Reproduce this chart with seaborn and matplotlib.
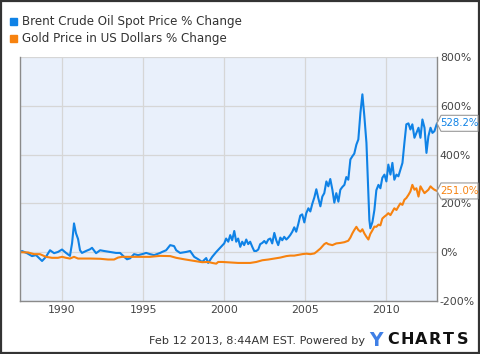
import matplotlib
matplotlib.use("Agg")
import matplotlib.pyplot as plt
import seaborn as sns
import pandas as pd
from matplotlib.patches import Rectangle, Polygon

# ---------------- data ----------------
oil_years = [1987.41, 1987.53, 1987.84, 1988.15, 1988.40, 1988.77, 1989.01, 1989.26, 1989.51, 1989.75,
             1990.00, 1990.25, 1990.49, 1990.62, 1990.74, 1990.86, 1990.99, 1991.11, 1991.23, 1991.48,
             1991.73, 1991.85, 1992.10, 1992.35, 1992.59, 1992.96, 1993.33, 1993.58, 1993.83, 1994.01,
             1994.20, 1994.44, 1994.69, 1994.94, 1995.19, 1995.43, 1995.68, 1996.05, 1996.17, 1996.42,
             1996.67, 1996.91, 1997.04, 1997.28, 1997.65, 1997.90, 1998.15, 1998.40, 1998.64, 1998.89,
             1999.01, 1999.26, 1999.51, 1999.75, 2000.00, 2000.12, 2000.25, 2000.37, 2000.49, 2000.62,
             2000.74, 2000.86, 2000.99, 2001.11, 2001.23, 2001.36, 2001.48, 2001.60, 2001.73, 2001.85,
             2001.98, 2002.10, 2002.22, 2002.35, 2002.47, 2002.59, 2002.72, 2002.84, 2002.96, 2003.09,
             2003.21, 2003.33, 2003.46, 2003.58, 2003.70, 2003.83, 2003.95, 2004.07, 2004.20, 2004.32,
             2004.44, 2004.57, 2004.69, 2004.81, 2004.94, 2005.06, 2005.19, 2005.31, 2005.43, 2005.56,
             2005.68, 2005.80, 2005.93, 2006.05, 2006.17, 2006.30, 2006.42, 2006.54, 2006.67, 2006.79,
             2006.91, 2007.04, 2007.16, 2007.28, 2007.41, 2007.53, 2007.65, 2007.78, 2007.90, 2008.02,
             2008.15, 2008.27, 2008.40, 2008.52, 2008.64, 2008.77, 2008.89, 2008.95, 2009.01, 2009.14,
             2009.26, 2009.38, 2009.51, 2009.63, 2009.75, 2009.88, 2010.00, 2010.12, 2010.25, 2010.37,
             2010.49, 2010.62, 2010.74, 2010.86, 2010.99, 2011.11, 2011.23, 2011.36, 2011.48, 2011.60,
             2011.73, 2011.85, 2011.98, 2012.10, 2012.22, 2012.35, 2012.47, 2012.59, 2012.72, 2012.84,
             2012.96, 2013.12]
oil_pct = [0, 5, -4, -16, -12, -36, -19, 8, -4, 1,
           11, -3, -15, 37, 118, 78, 54, 8, -3, 5,
           12, 18, -4, 8, 5, 1, -3, -3, -19, -29,
           -25, -8, -12, -8, -3, -8, -12, -3, 1, 8,
           29, 25, 8, -3, 1, 5, -19, -29, -40, -24,
           -44, -19, 1, 18, 36, 56, 43, 70, 49, 87,
           43, 56, 22, 43, 29, 52, 33, 43, 22, 5,
           5, 11, 33, 38, 46, 36, 52, 56, 36, 79,
           49, 29, 60, 49, 63, 52, 60, 70, 84, 102,
           84, 116, 150, 155, 122, 160, 180, 167, 198, 225,
           258, 222, 188, 228, 242, 290, 270, 300, 256, 203,
           242, 207, 256, 267, 276, 308, 297, 380, 393, 404,
           441, 462, 572, 647, 558, 448, 242, 132, 98, 124,
           173, 254, 276, 262, 305, 318, 290, 359, 318, 366,
           297, 318, 311, 338, 366, 448, 524, 528, 503, 524,
           469, 489, 510, 469, 544, 510, 407, 475, 510, 489,
           496, 528.2]

gold_years = [1987.41, 1987.90, 1988.27, 1988.64, 1989.01, 1989.38, 1989.75, 1990.00, 1990.25, 1990.49,
              1990.74, 1990.99, 1991.36, 1991.73, 1992.35, 1992.84, 1993.21, 1993.46, 1993.70, 1994.20,
              1994.81, 1995.43, 1996.05, 1996.67, 1997.04, 1997.53, 1997.90, 1998.27, 1998.64, 1999.01,
              1999.26, 1999.51, 1999.63, 1999.88, 2000.37, 2000.86, 2001.60, 2001.98, 2002.35, 2002.72,
              2003.09, 2003.46, 2003.83, 2004.07, 2004.32, 2004.57, 2004.81, 2005.06, 2005.31, 2005.56,
              2005.68, 2005.93, 2006.17, 2006.30, 2006.42, 2006.67, 2006.91, 2007.16, 2007.41, 2007.65,
              2007.78, 2007.90, 2008.02, 2008.15, 2008.27, 2008.40, 2008.52, 2008.64, 2008.77, 2008.89,
              2009.01, 2009.14, 2009.26, 2009.38, 2009.51, 2009.63, 2009.75, 2009.88, 2010.00, 2010.12,
              2010.25, 2010.37, 2010.49, 2010.62, 2010.74, 2010.86, 2010.99, 2011.11, 2011.23, 2011.36,
              2011.48, 2011.60, 2011.73, 2011.85, 2011.98, 2012.10, 2012.22, 2012.35, 2012.47, 2012.59,
              2012.72, 2012.84, 2012.96, 2013.12]
gold_pct = [0, -1, -8, -8, -19, -23, -23, -19, -23, -26,
            -19, -26, -26, -26, -27, -30, -30, -22, -19, -19,
            -19, -19, -15, -16, -23, -29, -33, -37, -41, -40,
            -44, -47, -40, -40, -42, -44, -44, -40, -33, -30,
            -26, -22, -16, -14, -14, -11, -8, -6, -8, -5,
            1, 15, 33, 38, 33, 29, 36, 38, 41, 47,
            60, 77, 91, 104, 91, 84, 94, 77, 63, 52,
            75, 90, 105, 104, 113, 110, 138, 146, 152, 160,
            152, 166, 180, 173, 187, 200, 194, 215, 222, 235,
            249, 276, 256, 262, 228, 270, 256, 242, 249, 256,
            270, 262, 256, 251.0]

series_names = ["Brent Crude Oil Spot Price % Change", "Gold Price in US Dollars % Change"]
x_ticks = [1990, 1995, 2000, 2005, 2010]
y_ticks = [-200, 0, 200, 400, 600, 800]
footer_text = "Feb 12 2013, 8:44AM EST. Powered by"
logo_first = "Y"
logo_rest = "CHARTS"

BLUE = "#0f82e6"
ORANGE = "#f7820f"

df = pd.concat([
    pd.DataFrame({"year": oil_years, "pct": oil_pct, "series": series_names[0]}),
    pd.DataFrame({"year": gold_years, "pct": gold_pct, "series": series_names[1]}),
])

# ---------------- figure ----------------
sns.set_theme(style="white")
plt.rcParams["font.family"] = ["DejaVu Sans"]

W, H = 480, 354
fig = plt.figure(figsize=(W / 100, H / 100), dpi=100)
ax = fig.add_axes([20 / W, 1 - 301 / H, 417 / W, 244 / H])
ax.set_facecolor("#e9f0fb")

sns.lineplot(data=df, x="year", y="pct", hue="series", palette=[BLUE, ORANGE],
             ax=ax, linewidth=1.5, legend=False, estimator=None, sort=False)

ax.set_xlim(oil_years[0], oil_years[-1])
ax.set_ylim(-200, 800)
ax.set_xticks(x_ticks)
ax.set_xticklabels([str(t) for t in x_ticks])
ax.set_yticks(y_ticks)
ax.set_yticklabels([f"{t}%" for t in y_ticks])
ax.yaxis.tick_right()
ax.tick_params(axis="both", length=0, labelsize=7.8, colors="#444444", pad=3)
ax.tick_params(axis="y", pad=2)
ax.grid(True, color="#d6d6d6", linewidth=0.9)
ax.set_axisbelow(True)
ax.set_xlabel("")
ax.set_ylabel("")
for side in ["left", "bottom", "right"]:
    ax.spines[side].set_color("#8a8a8a")
    ax.spines[side].set_linewidth(1.0)
ax.spines["top"].set_visible(False)

# value flags on the right (pentagon pointing to the last value)
x_right = ax.bbox.x1
for vals, col in [(oil_pct, BLUE), (gold_pct, ORANGE)]:
    ydisp = ax.transData.transform((oil_years[-1], vals[-1]))[1]
    pts = [(x_right, ydisp), (x_right + 4, ydisp + 8), (W - 2, ydisp + 8),
           (W - 2, ydisp - 8), (x_right + 4, ydisp - 8)]
    pts_fig = [(px / W, py / H) for px, py in pts]
    fig.patches.append(Polygon(pts_fig, closed=True, transform=fig.transFigure,
                               fc="white", ec="#9a9a9a", lw=0.8, zorder=5))
    fig.text((x_right + 4 + (W - 2)) / 2 / W, ydisp / H, f"{vals[-1]:.1f}%",
             fontsize=7.3, color=col, ha="center", va="center", zorder=6)

# legend (custom, top-left)
for i, (name, col) in enumerate(zip(series_names, [BLUE, ORANGE])):
    yy = 1 - (21 + 17.5 * i) / H
    fig.patches.append(Rectangle((10 / W, yy - 3.5 / H), 7 / W, 7 / H,
                                 transform=fig.transFigure, color=col))
    fig.text(22 / W, yy, name, fontsize=8.6, color="#333333", va="center", ha="left")

# footer
fig.text(365 / W, 1 - 341 / H, footer_text, fontsize=8.1, color="#333333",
         ha="right", va="center")
fig.text(369 / W, 1 - 340 / H, logo_first, fontsize=13.5, fontweight="bold", color="#3f7fe6",
         ha="left", va="center")
for k, ch in enumerate(logo_rest):
    fig.text((387 + 14 * k) / W, 1 - 340 / H, ch, fontsize=11.5, fontweight="bold",
             color="#111111", ha="left", va="center")

# outer border
fig.patches.append(Rectangle((0.002, 0.003), 0.996, 0.994, transform=fig.transFigure,
                             fill=False, ec="#333333", lw=1.6))

fig.savefig("out.png", dpi=100, facecolor="white")
